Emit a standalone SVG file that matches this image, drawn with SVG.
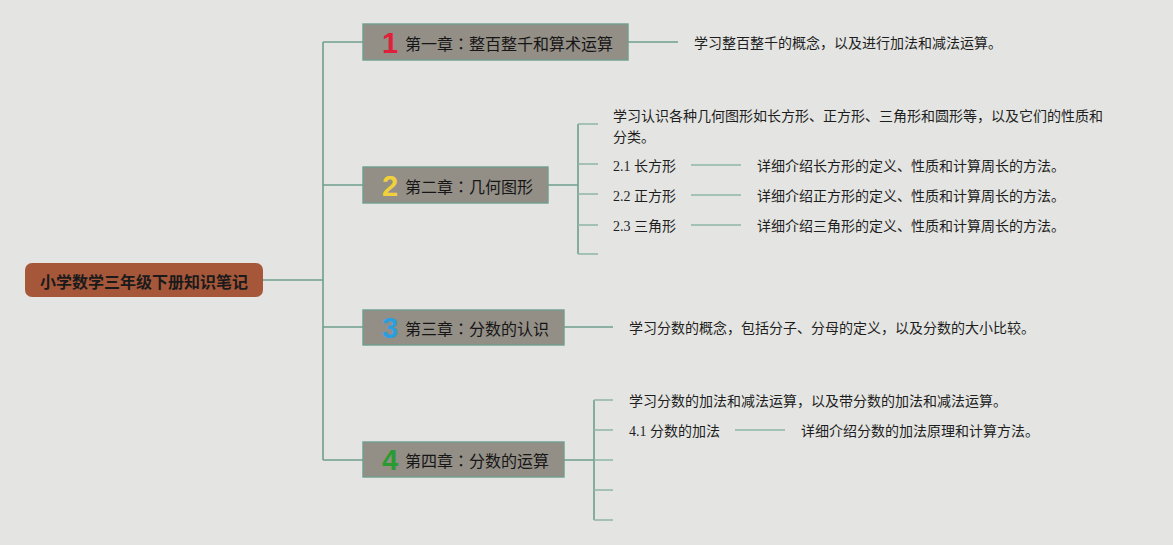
<svg xmlns="http://www.w3.org/2000/svg" width="1173" height="545" viewBox="0 0 1173 545">
<style>
.bg{fill:#e4e5e2}
.main{stroke:#6f9e8f;stroke-width:1.6;fill:none}
.sub{stroke:#8fb5a7;stroke-width:1.6;fill:none}
.root{fill:#a6573a}
.rt{font-family:"Noto Sans CJK SC",sans-serif;font-size:16px;font-weight:bold;fill:#1a1a1a}
.ch{fill:#938e86;stroke:#6f9e8f;stroke-width:1.4}
.ct{font-family:"Noto Sans CJK SC",sans-serif;font-size:16px;fill:#161616}
.colon{font-family:"Noto Sans CJK TC",sans-serif}
.num{font-family:"Liberation Sans",Arial,sans-serif;font-size:29px;font-weight:bold}
.t{font-family:"Liberation Serif","Noto Sans CJK SC",serif;font-size:14px;fill:#1e1e1e}
</style>
<rect class="bg" x="0" y="0" width="1173" height="545"/>
<g id="connectors">
<path class="main" d="M263,280 H323 M323,42 V460 M323,42 H363 M323,185 H363 M323,327 H363 M323,460 H363"/>
<path class="main" d="M628,42 H678"/>
<path class="main" d="M548,185 H578 M578,124 V254"/>
<path class="sub" d="M578,124 H598 M578,164 H598 M578,194 H598 M578,225 H598 M578,254 H598"/>
<path class="sub" d="M691,165 H741 M691,195 H741 M691,225 H741"/>
<path class="main" d="M564,327 H613"/>
<path class="main" d="M564,460 H594 M594,400 V520"/>
<path class="sub" d="M594,400 H613 M594,430 H613 M594,460 H613 M594,490 H613 M594,520 H613"/>
<path class="sub" d="M735,430 H785"/>
</g>
<g id="root">
<rect class="root" x="25" y="263" width="238" height="34" rx="7"/>
<text class="rt" x="144" y="281" text-anchor="middle" dominant-baseline="central">小学数学三年级下册知识笔记</text>
</g>
<g id="ch1">
<rect class="ch" x="363" y="24" width="265" height="36"/>
<text class="num" x="390" y="43" text-anchor="middle" dominant-baseline="central" fill="#e0203a">1</text>
<text class="ct" x="405" y="43" dominant-baseline="central">第一章<tspan class="colon">：</tspan>整百整千和算术运算</text>
</g>
<g id="ch1-detail">
<text class="t" x="694" y="43" dominant-baseline="central">学习整百整千的概念，以及进行加法和减法运算。</text>
</g>
<g id="ch2">
<rect class="ch" x="363" y="167" width="185" height="36"/>
<text class="num" x="390" y="186" text-anchor="middle" dominant-baseline="central" fill="#f0d13c">2</text>
<text class="ct" x="405" y="186" dominant-baseline="central">第二章<tspan class="colon">：</tspan>几何图形</text>
</g>
<g id="ch2-detail">
<text class="t" x="613" y="116" dominant-baseline="central">学习认识各种几何图形如长方形、正方形、三角形和圆形等，以及它们的性质和</text>
<text class="t" x="613" y="137" dominant-baseline="central">分类。</text>
</g>
<g id="ch2-1">
<text class="t" x="613" y="166" dominant-baseline="central">2.1 长方形</text>
<text class="t" x="757" y="166" dominant-baseline="central">详细介绍长方形的定义、性质和计算周长的方法。</text>
</g>
<g id="ch2-2">
<text class="t" x="613" y="196" dominant-baseline="central">2.2 正方形</text>
<text class="t" x="757" y="196" dominant-baseline="central">详细介绍正方形的定义、性质和计算周长的方法。</text>
</g>
<g id="ch2-3">
<text class="t" x="613" y="226" dominant-baseline="central">2.3 三角形</text>
<text class="t" x="757" y="226" dominant-baseline="central">详细介绍三角形的定义、性质和计算周长的方法。</text>
</g>
<g id="ch3">
<rect class="ch" x="363" y="310" width="201" height="35"/>
<text class="num" x="390" y="328" text-anchor="middle" dominant-baseline="central" fill="#2a9fe0">3</text>
<text class="ct" x="405" y="328" dominant-baseline="central">第三章<tspan class="colon">：</tspan>分数的认识</text>
</g>
<g id="ch3-detail">
<text class="t" x="629" y="328" dominant-baseline="central">学习分数的概念，包括分子、分母的定义，以及分数的大小比较。</text>
</g>
<g id="ch4">
<rect class="ch" x="363" y="442" width="201" height="35"/>
<text class="num" x="390" y="460" text-anchor="middle" dominant-baseline="central" fill="#2a9b32">4</text>
<text class="ct" x="405" y="460" dominant-baseline="central">第四章<tspan class="colon">：</tspan>分数的运算</text>
</g>
<g id="ch4-detail">
<text class="t" x="629" y="401" dominant-baseline="central">学习分数的加法和减法运算，以及带分数的加法和减法运算。</text>
</g>
<g id="ch4-1">
<text class="t" x="629" y="431" dominant-baseline="central">4.1 分数的加法</text>
<text class="t" x="801" y="431" dominant-baseline="central">详细介绍分数的加法原理和计算方法。</text>
</g>
</svg>
